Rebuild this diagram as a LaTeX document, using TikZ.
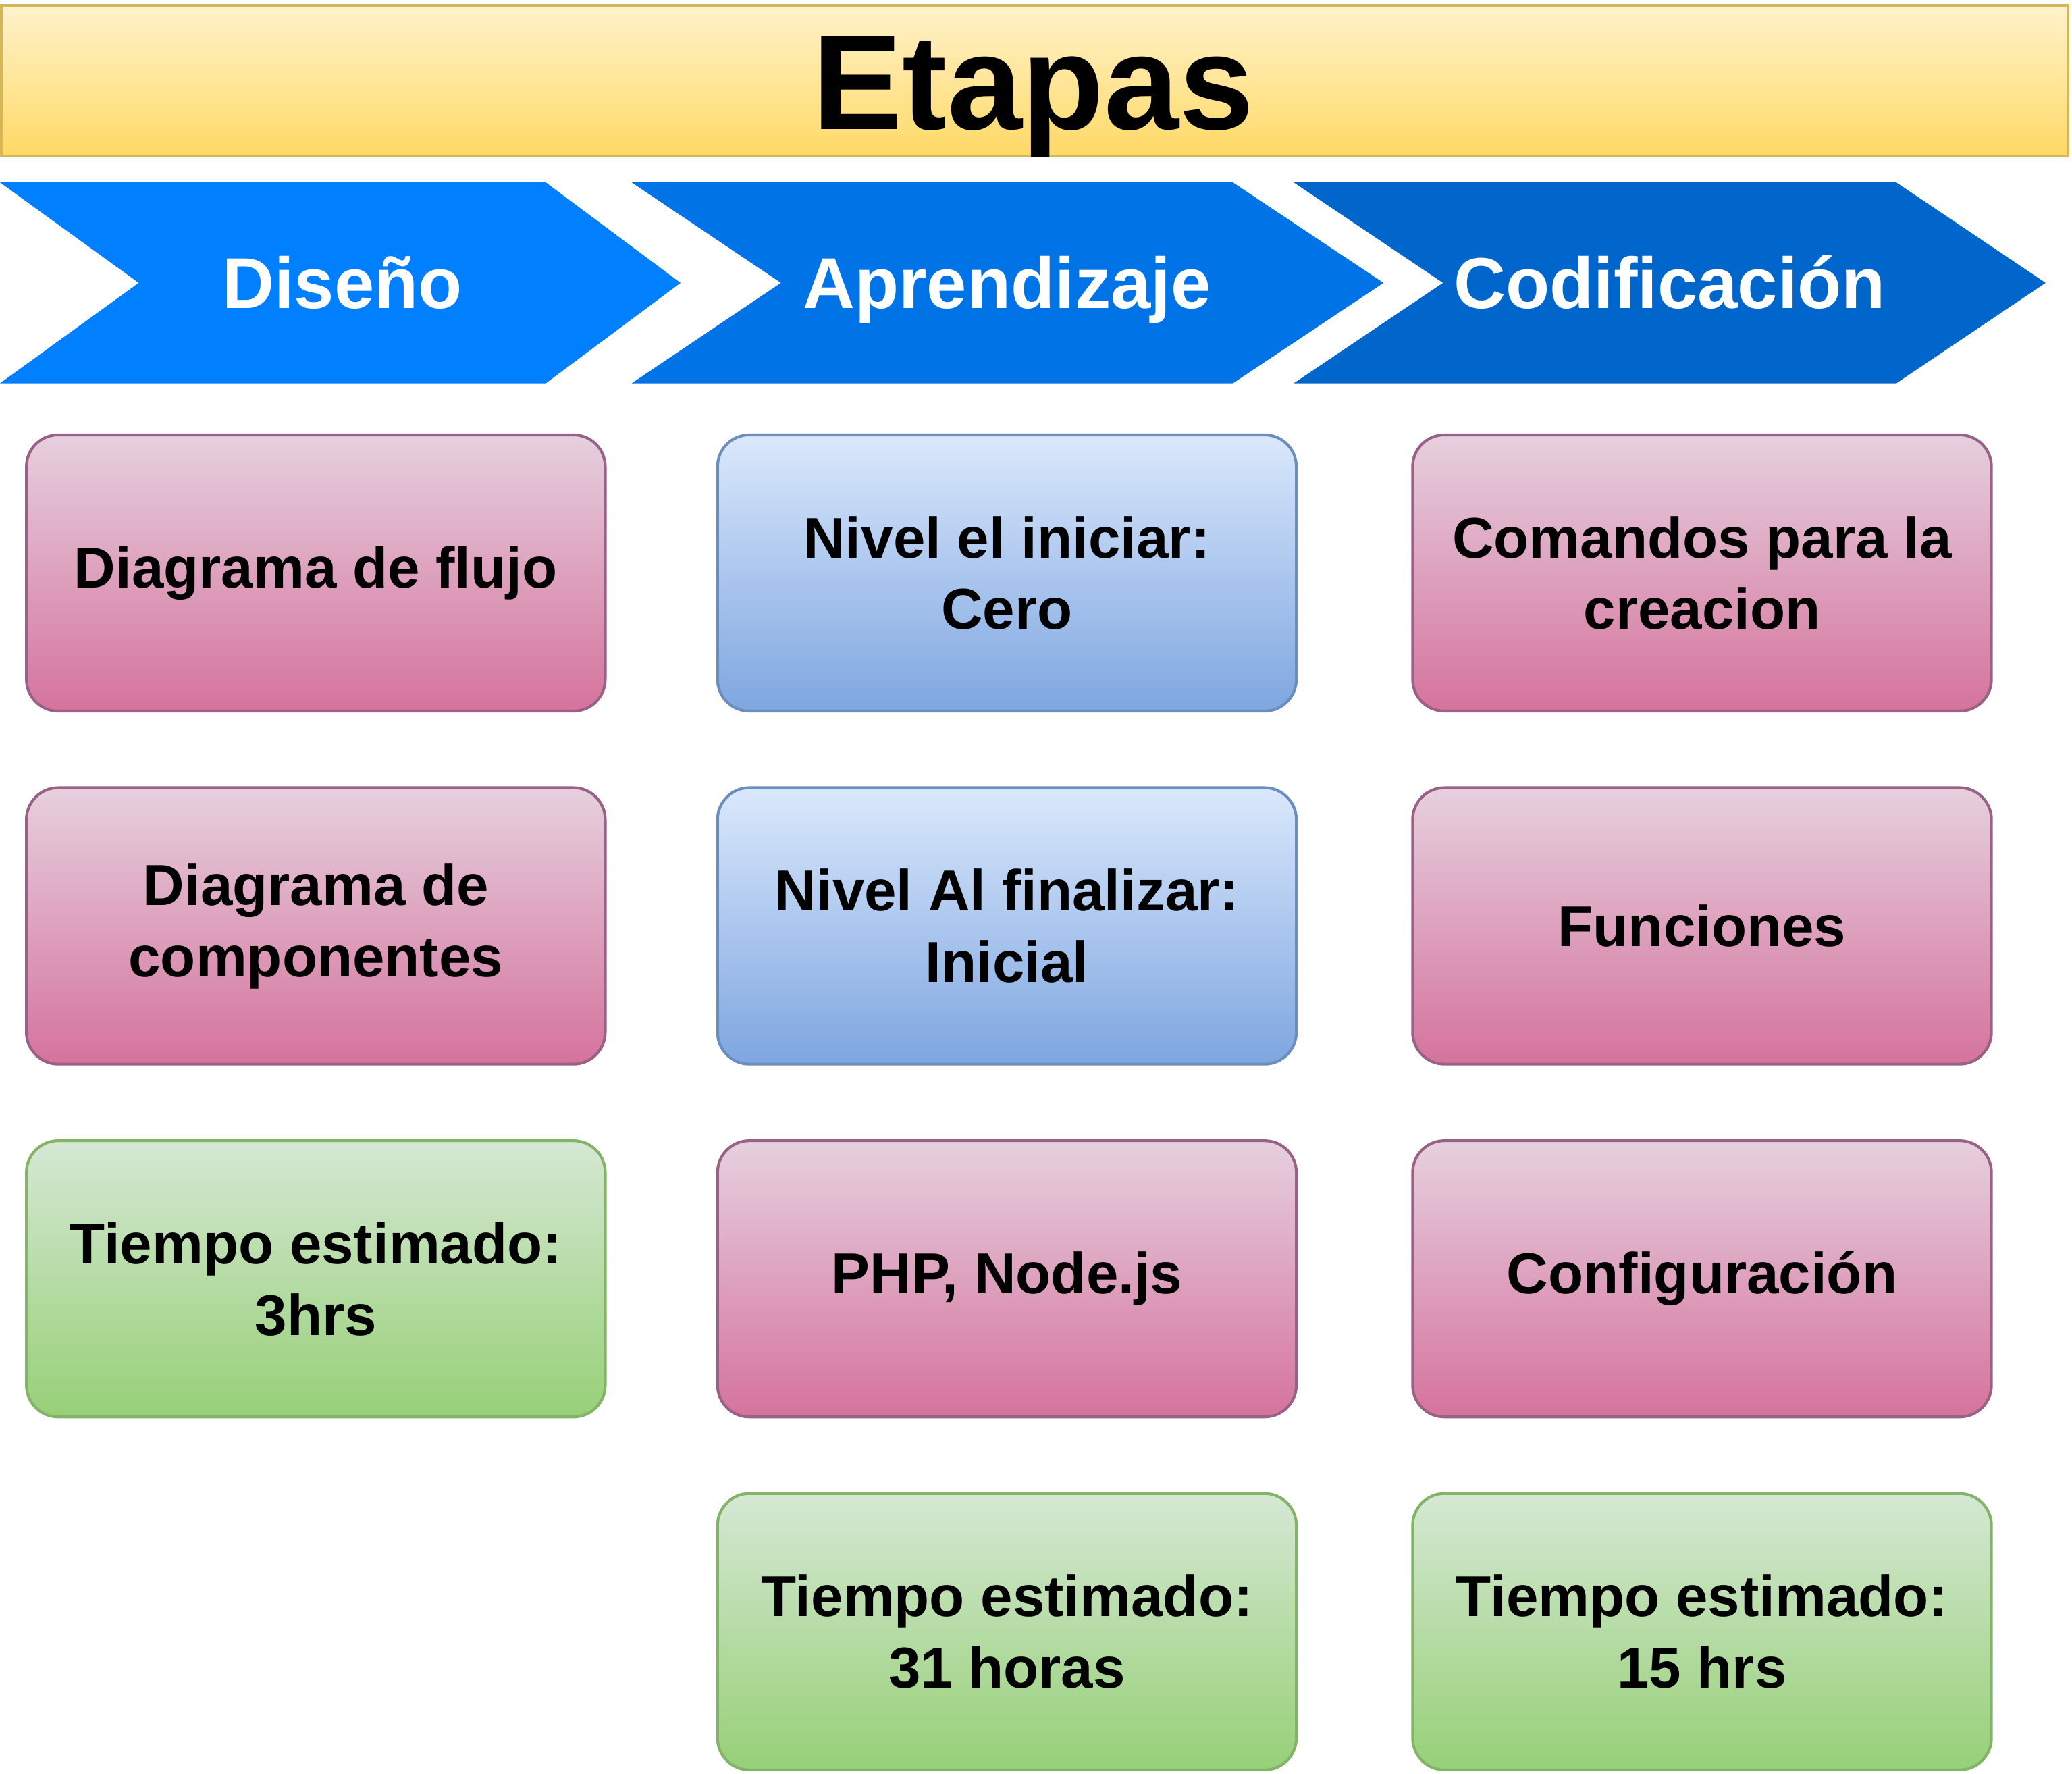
\documentclass[tikz,border=0pt]{standalone}
\usepackage{fontspec}
\setmainfont{Liberation Sans}
\usetikzlibrary{positioning}
\definecolor{myyellowtop}{HTML}{FFF2CC}
\definecolor{myyellowbot}{HTML}{FFD966}
\definecolor{myyellowline}{HTML}{D6B656}
\definecolor{mypinktop}{HTML}{E6D0DE}
\definecolor{mypinkbot}{HTML}{D5739D}
\definecolor{mypinkline}{HTML}{996185}
\definecolor{mybluetop}{HTML}{DAE8FC}
\definecolor{mybluebot}{HTML}{7EA6E0}
\definecolor{myblueline}{HTML}{6C8EBF}
\definecolor{mygreentop}{HTML}{D5E8D4}
\definecolor{mygreenbot}{HTML}{97D077}
\definecolor{mygreenline}{HTML}{82B366}
\definecolor{mystepa}{RGB}{0, 127, 255}
\definecolor{mystepb}{RGB}{0, 115, 230}
\definecolor{mystepc}{RGB}{0, 102, 204}

\begin{document}
\begin{tikzpicture}[
    card/.style={rounded corners=0.24cm, line width=0.6pt, minimum width=4.38cm,
        minimum height=2.09cm, align=center,
        font=\fontsize{12.4}{15.4}\selectfont\bfseries},
    pinkcard/.style={card, draw=mypinkline, top color=mypinktop, bottom color=mypinkbot},
    bluecard/.style={card, draw=myblueline, top color=mybluetop, bottom color=mybluebot},
    greencard/.style={card, draw=mygreenline, top color=mygreentop, bottom color=mygreenbot},
    steptext/.style={white, anchor=base, font=\fontsize{15.5}{18}\selectfont\bfseries}
]
\useasboundingbox (0,0) rectangle (15.68,-13.42);
% Title banner
\draw[myyellowline, line width=0.6pt, top color=myyellowtop, bottom color=myyellowbot]
    (0.01,-0.04) rectangle (15.65,-1.18);
\node[anchor=base, font=\fontsize{29}{34}\selectfont\bfseries] (etapas) at (7.82,-0.98) {Etapas};
% Chevrons
\foreach \xa/\xb/\xt/\xn/\col/\name/\txt in {
    0.00/4.13/5.15/1.05/mystepa/diseno/Diseño,
    4.78/9.33/10.47/5.91/mystepb/aprend/Aprendizaje,
    9.79/14.35/15.48/10.92/mystepc/codif/Codificación} {
    \fill[\col] (\xa,-1.38) -- (\xb,-1.38) -- (\xt,-2.14) -- (\xb,-2.90)
        -- (\xa,-2.90) -- (\xn,-2.14) -- cycle;
    \node[steptext] (\name) at ({(\xn+\xb)/2},-2.33) {\txt};
}
% Column 1
\node[pinkcard] (flujo) at (2.39,-4.335) {Diagrama de flujo};
\node[pinkcard] (compo) at (2.39,-7.005) {Diagrama de\\componentes};
\node[greencard] (tiempoa) at (2.39,-9.675) {Tiempo estimado:\\3hrs};
% Column 2
\node[bluecard] (inicio) at (7.62,-4.335) {Nivel el iniciar:\\Cero};
\node[bluecard] (final) at (7.62,-7.005) {Nivel Al finalizar:\\Inicial};
\node[pinkcard] (php) at (7.62,-9.675) {PHP, Node.js};
\node[greencard] (tiempob) at (7.62,-12.345) {Tiempo estimado:\\31 horas};
% Column 3
\node[pinkcard] (comandos) at (12.88,-4.335) {Comandos para la\\creacion};
\node[pinkcard] (funciones) at (12.88,-7.005) {Funciones};
\node[pinkcard] (config) at (12.88,-9.675) {Configuración};
\node[greencard] (tiempoc) at (12.88,-12.345) {Tiempo estimado:\\15 hrs};
\end{tikzpicture}
\end{document}
